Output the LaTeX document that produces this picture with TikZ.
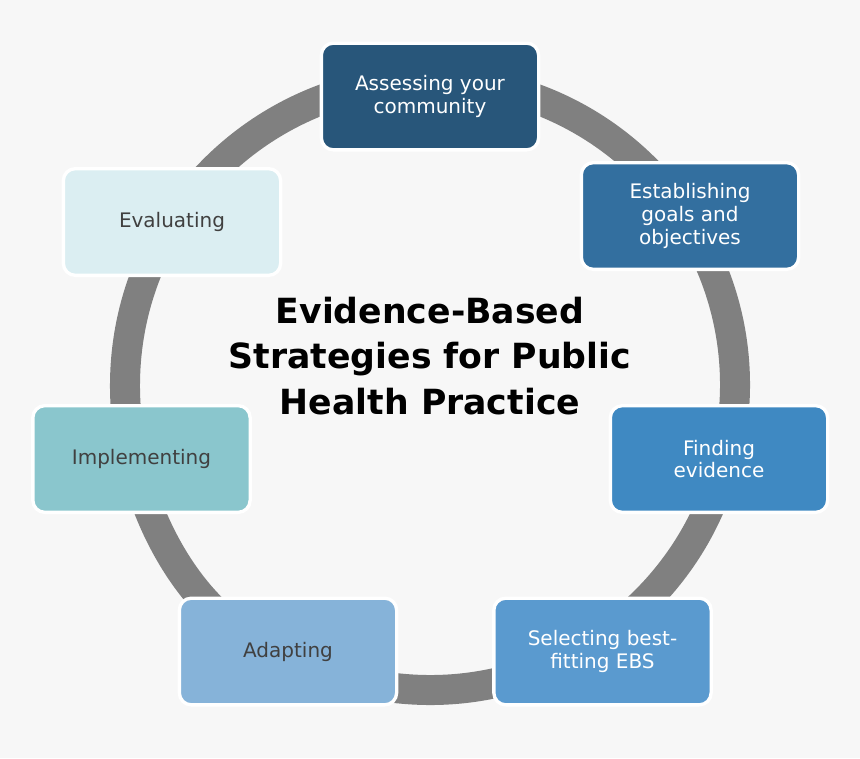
\documentclass[tikz,border=0pt]{standalone}
\usepackage{fontspec}
\setmainfont{DejaVu Sans}
\usetikzlibrary{arrows.meta}
\definecolor{bgc}{RGB}{247,247,247}
\definecolor{ringc}{RGB}{128,128,128}
\definecolor{cA}{RGB}{40,86,122}
\definecolor{cB}{RGB}{51,111,159}
\definecolor{cC}{RGB}{63,137,194}
\definecolor{cD}{RGB}{90,154,207}
\definecolor{cE}{RGB}{134,179,217}
\definecolor{cF}{RGB}{138,198,205}
\definecolor{cG}{RGB}{219,238,242}
\definecolor{txtc}{RGB}{64,64,64}
\tikzset{
  stepbox/.style={draw=white,line width=2.5pt,rounded corners=9pt,minimum width=163pt,
    minimum height=80pt,align=center,font=\fontsize{15}{17}\selectfont,inner sep=2pt},
}
\begin{document}
\begin{tikzpicture}[x=0.75pt,y=0.75pt,yscale=-1]
%background
\fill[bgc] (0,0) rectangle (860,758);
\useasboundingbox (0,0) rectangle (860,758);

%Ring with arrow
\draw[ringc,line width=22.5pt,-{Triangle[length=40pt,width=58pt]}]
  (430,385) ++(-85:305) arc[start angle=-85,end angle=-245,radius=305,y radius=305];
\draw[ringc,line width=22.5pt] (430,385) ++(-85:305) arc[start angle=-85,end angle=125,radius=305];

%Steps
\node[stepbox,fill=cA,text=white] (assess) at (430,96.5) {Assessing your\\community};
\node[stepbox,fill=cB,text=white] (goals) at (690,216) {Establishing\\goals and\\objectives};
\node[stepbox,fill=cC,text=white] (find) at (719,459) {Finding\\evidence};
\node[stepbox,fill=cD,text=white] (select) at (602.5,651.5) {Selecting best-\\fitting EBS};
\node[stepbox,fill=cE,text=txtc] (adapt) at (288,651.5) {Adapting};
\node[stepbox,fill=cF,text=txtc] (impl) at (141.5,459) {Implementing};
\node[stepbox,fill=cG,text=txtc] (eval) at (172,222) {Evaluating};

% Title
\node[align=center,font=\bfseries\fontsize{26}{34}\selectfont] (title) at (430,356)
  {Evidence-Based\\Strategies for Public\\Health Practice};
\end{tikzpicture}
\end{document}
